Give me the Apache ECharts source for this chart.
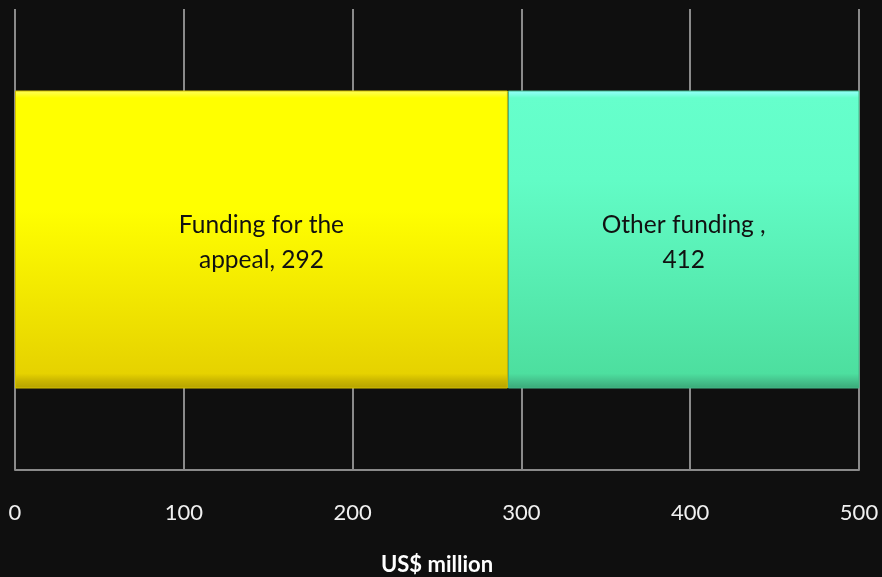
<!DOCTYPE html>
<html>
<head>
<meta charset="utf-8">
<script src="https://cdn.jsdelivr.net/npm/echarts@6/dist/echarts.min.js"></script>
<style>
html,body{margin:0;padding:0;background:#0f0f0f;}
#c{width:882px;height:577px;}
</style>
</head>
<body>
<div id="c"></div>
<script>
const categories = ['Funding'];
const seriesNames = ['Funding for the\nappeal', 'Other funding '];
const appealValues = [292];
const otherValues = [412];
const xTicks = [0, 100, 200, 300, 400, 500];

const chart = echarts.init(document.getElementById('c'));
const FONT = 'Lato, "Open Sans", sans-serif';
function grad(stops) {
  return new echarts.graphic.LinearGradient(0, 0, 0, 1,
    stops.map(s => ({offset: s[0], color: s[1]})));
}
const labelCfg = {
  show: true,
  position: 'inside',
  color: '#111',
  fontFamily: FONT,
  fontSize: 24.5,
  lineHeight: 35,
  align: 'center',
  offset: [0, 3]
};
chart.setOption({
  backgroundColor: '#0f0f0f',
  animation: false,
  grid: {left: 15, right: 23, top: 9, bottom: 107, containLabel: false, outerBoundsMode: 'none'},
  xAxis: {
    type: 'value',
    min: xTicks[0],
    max: xTicks[xTicks.length - 1],
    interval: 100,
    name: 'US$ million',
    nameLocation: 'middle',
    nameGap: 84,
    nameTextStyle: {color: '#ffffff', fontFamily: FONT, fontWeight: 'bold', fontSize: 22},
    axisLine: {show: true, lineStyle: {color: '#8a8a8a', width: 2}},
    axisTick: {show: false},
    axisLabel: {color: '#f0f0f0', fontFamily: FONT, fontSize: 22, margin: 32},
    splitLine: {show: true, lineStyle: {color: '#8a8a8a', width: 2}}
  },
  yAxis: {
    type: 'category',
    data: categories,
    axisLine: {show: false},
    axisTick: {show: false},
    axisLabel: {show: false}
  },
  series: [
    {
      name: seriesNames[0],
      type: 'bar',
      stack: 'total',
      barWidth: 298,
      data: appealValues,
      itemStyle: {
        color: grad([[0, '#ffff60'], [0.025, '#ffff00'], [0.4, '#ffff00'], [0.95, '#e6d200'], [0.975, '#c9b500'], [1, '#b5a200']]),
        borderColor: '#d4c000', borderWidth: 1
      },
      label: Object.assign({}, labelCfg, {formatter: p => p.seriesName + ', ' + p.value})
    },
    {
      name: seriesNames[1],
      type: 'bar',
      stack: 'total',
      barWidth: 298,
      data: otherValues,
      itemStyle: {
        color: grad([[0, '#99ffff'], [0.025, '#66ffcc'], [0.3, '#62fcc6'], [0.95, '#4ddf9f'], [0.975, '#45c28c'], [1, '#3aa878']]),
        borderColor: '#45b888', borderWidth: 1
      },
      label: Object.assign({}, labelCfg, {formatter: p => 'Other funding ,\n' + p.value})
    }
  ]
});
</script>
</body>
</html>
